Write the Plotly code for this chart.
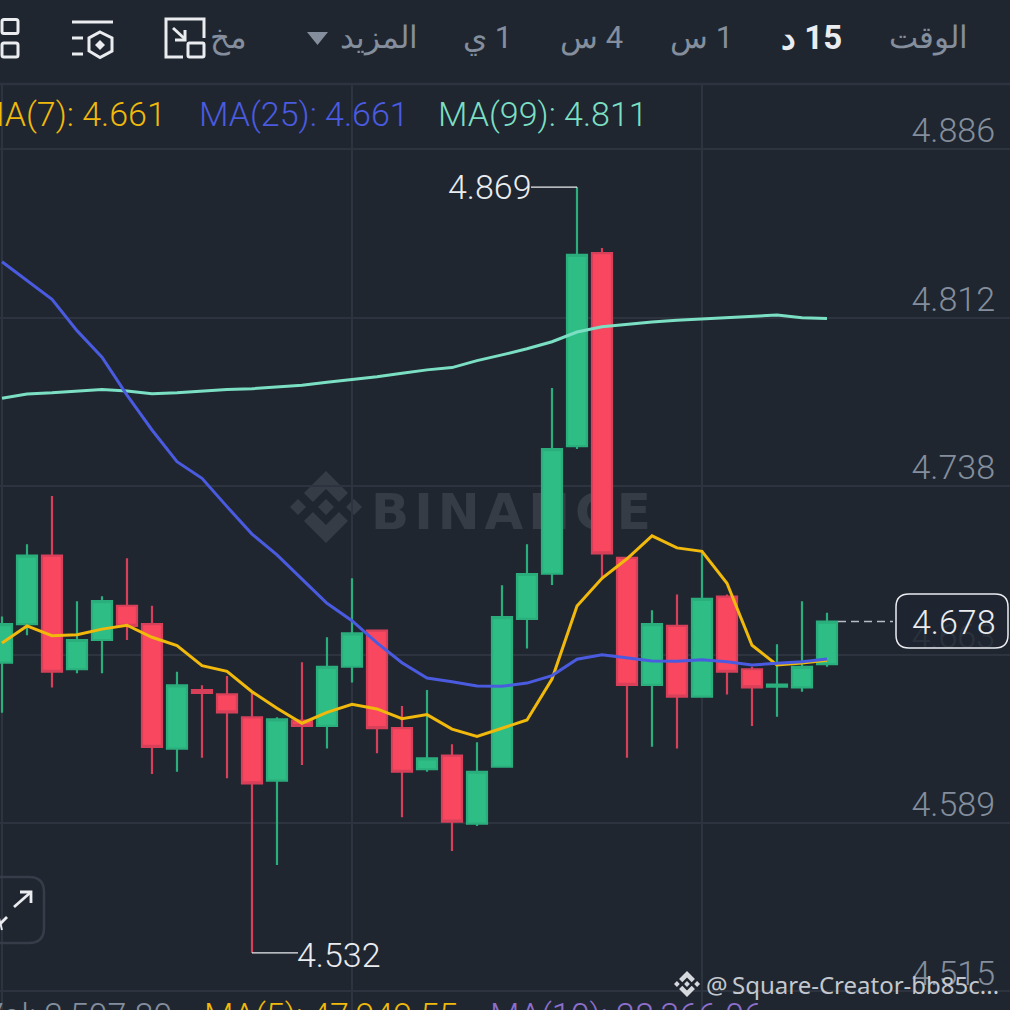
import plotly.graph_objects as go

candle_index = list(range(34))
opens = [4.6595,4.6765,4.7067,4.6566,4.6695,4.6846,4.6765,4.6216,4.6474,4.6455,4.6354,4.6075,4.6339,4.6316,4.6577,4.6736,4.6306,4.6125,4.6185,4.5885,4.6136,4.6788,4.6987,4.7550,4.8401,4.7057,4.6497,4.6757,4.6445,4.6886,4.6566,4.6489,4.6486,4.6588]
highs = [4.6798,4.7117,4.7330,4.6866,4.6888,4.7055,4.6846,4.6555,4.6495,4.6536,4.6461,4.6354,4.6597,4.6707,4.6967,4.6736,4.6404,4.6474,4.6235,4.6244,4.6936,4.7117,4.7806,4.8692,4.8423,4.7057,4.6826,4.6896,4.7087,4.6896,4.6577,4.6676,4.6866,4.6815]
lows = [4.6374,4.6716,4.6486,4.6548,4.6548,4.6695,4.6104,4.6114,4.6176,4.6085,4.5315,4.5703,4.6144,4.6216,4.6507,4.6195,4.5913,4.6114,4.5765,4.5875,4.6136,4.6657,4.6937,4.7537,4.6960,4.6176,4.6224,4.6216,4.6445,4.6455,4.6316,4.6357,4.6467,4.6577]
closes = [4.6765,4.7067,4.6555,4.6695,4.6866,4.6757,4.6224,4.6495,4.6462,4.6376,4.6063,4.6345,4.6316,4.6576,4.6724,4.6306,4.6114,4.6173,4.5894,4.6114,4.6796,4.6986,4.7537,4.8393,4.7077,4.6497,4.6765,4.6445,4.6876,4.6555,4.6486,4.6498,4.6576,4.6776]
ma7 = [4.6682,4.6757,4.6714,4.6718,4.6743,4.6760,4.6707,4.6670,4.6582,4.6557,4.6467,4.6394,4.6328,4.6376,4.6411,4.6391,4.6348,4.6366,4.6302,4.6270,4.6306,4.6342,4.6523,4.6845,4.6967,4.7053,4.7154,4.7101,4.7086,4.6945,4.6672,4.6585,4.6594,4.6606]
ma25 = [4.8363,4.8279,4.8197,4.8059,4.7942,4.7775,4.7621,4.7481,4.7408,4.7283,4.7162,4.7070,4.6963,4.6857,4.6780,4.6682,4.6595,4.6527,4.6511,4.6492,4.6491,4.6505,4.6538,4.6610,4.6630,4.6616,4.6602,4.6601,4.6608,4.6599,4.6585,4.6592,4.6599,4.6611]
ma99 = [4.7761,4.7780,4.7785,4.7793,4.7800,4.7793,4.7781,4.7785,4.7793,4.7799,4.7803,4.7811,4.7818,4.7831,4.7843,4.7856,4.7871,4.7886,4.7896,4.7927,4.7952,4.7979,4.8010,4.8053,4.8076,4.8087,4.8097,4.8105,4.8110,4.8118,4.8122,4.8128,4.8116,4.8113]
tick_values = [4.886,4.8117,4.7374,4.6631,4.5888,4.5145]
tick_labels = ["4.886","4.812","4.738","4.663","4.589","4.515"]
time_tabs = ["الوقت","\u202b15 د\u202c","\u202b1 س\u202c","\u202b4 س\u202c","\u202b1 ي\u202c","المزيد","مخ"]
last_price = 4.6776

BG="#1F2630"; GRID="#2D343F"; UP="#2EBD85"; DOWN="#F8475F"; MUTED="#848E9C"; WHITE="#EAECEF"
YEL="#F0B90B"; BLU="#4A5BE0"; TEAL="#7BDFC3"; WM="#363C46"; FONT="Roboto, sans-serif"

def X(p): return p/1010
def Y(p): return 1-p/1010
def path(pts, close=True):
    return "M "+" L ".join(f"{X(a):.5f} {Y(b):.5f}" for a,b in pts)+(" Z" if close else "")
def shp(d, fill=None, stroke=None, w=0, layer="above"):
    return dict(type="path", xref="paper", yref="paper", path=d, layer=layer,
                fillcolor=fill or "rgba(0,0,0,0)", line=dict(color=stroke or "rgba(0,0,0,0)", width=w))
def rrect(x0,y0,x1,y1,r):
    return (f"M {X(x0+r):.5f} {Y(y0):.5f} L {X(x1-r):.5f} {Y(y0):.5f} Q {X(x1):.5f} {Y(y0):.5f} {X(x1):.5f} {Y(y0+r):.5f} "
            f"L {X(x1):.5f} {Y(y1-r):.5f} Q {X(x1):.5f} {Y(y1):.5f} {X(x1-r):.5f} {Y(y1):.5f} "
            f"L {X(x0+r):.5f} {Y(y1):.5f} Q {X(x0):.5f} {Y(y1):.5f} {X(x0):.5f} {Y(y1-r):.5f} "
            f"L {X(x0):.5f} {Y(y0+r):.5f} Q {X(x0):.5f} {Y(y0):.5f} {X(x0+r):.5f} {Y(y0):.5f} Z")
def logo(cx,cy,s,fill,layer):
    k=s/36
    P=lambda L:[(cx+a*k,cy+b*k) for a,b in L]
    out=[]
    for dx in (-28,0,28):
        out.append(shp(path(P([(dx-8,0),(dx,-8),(dx+8,0),(dx,8)])),fill=fill,layer=layer))
    out.append(shp(path(P([(0,-36),(22,-14),(13,-5),(0,-18),(-13,-5),(-22,-14)])),fill=fill,layer=layer))
    out.append(shp(path(P([(0,36),(22,14),(13,5),(0,18),(-13,5),(-22,14)])),fill=fill,layer=layer))
    return out

fig=go.Figure()
fig.add_trace(go.Candlestick(x=candle_index,open=opens,high=highs,low=lows,close=closes,
    increasing=dict(line=dict(color="#2AAE7C",width=2.2),fillcolor=UP),
    decreasing=dict(line=dict(color="#D8405A",width=2.2),fillcolor=DOWN),whiskerwidth=0,showlegend=False))
for s,c in ((ma99,TEAL),(ma7,YEL),(ma25,BLU)):
    fig.add_trace(go.Scatter(x=candle_index,y=s,mode="lines",line=dict(color=c,width=3),showlegend=False))

hi_i=highs.index(max(highs)); lo_i=lows.index(min(lows))
fig.add_trace(go.Scatter(x=[hi_i-1.84,hi_i],y=[max(highs)]*2,mode="lines",line=dict(color=WHITE,width=1.3),showlegend=False))
fig.add_trace(go.Scatter(x=[lo_i,lo_i+1.84],y=[min(lows)]*2,mode="lines",line=dict(color=WHITE,width=1.3),showlegend=False))
fig.add_trace(go.Scatter(x=[33.44,35.64],y=[last_price]*2,mode="lines",line=dict(color="#B7BDC6",width=1.5,dash="8px,5px"),showlegend=False))

ann=[]
def T(text,x,y,size,color,anchor="center",family=FONT,weight=300):
    ann.append(dict(text=text,xref="paper",yref="paper",x=X(x),y=Y(y),xanchor=anchor,yanchor="middle",showarrow=False,
                    borderpad=0,borderwidth=0,font=dict(family=family,size=size,color=color,weight=weight)))
T(f"{max(highs):.3f}",533,187,34,WHITE,"right")
T(f"{min(lows):.3f}",296,955,34,WHITE,"left")
ann[-2].update(xref="x",x=hi_i-1.80,yref="y",y=max(highs))
ann[-1].update(xref="x",x=lo_i+1.80,yref="y",y=min(lows),yshift=-2)
T(f"MA(7): {ma7[-1]:.3f}",166,114,34,YEL,"right")
T(f"MA(25): {ma25[-1]:.3f}",199,114,34,BLU,"left")
T(f"MA(99): {ma99[-1]:.3f}",438,114,34,TEAL,"left")
T(f"{last_price:.3f}",953.5,622,34,WHITE,"center")
T("Vol: 2,507.80",172,1015,34,MUTED,"right")
T("MA(5): 47,949.55",204,1015,34,YEL,"left")
T("MA(10): 28,366.06",490,1015,34,"#8E6FCB","left")
T("@",717,984,24,"#C4C8CE","center","Noto Sans",400)
T("Square-Creator-bb85c...",732,984,24,"#C4C8CE","left","Noto Sans",400)
tab_x=[928,811,701,591,487,379,228]
for i,(t,x) in enumerate(zip(time_tabs,tab_x)):
    active=i==1
    T(f"<b>{t}</b>" if active else t,x,37,33 if active else 31,WHITE if active else MUTED,"center",FONT,400)

shapes=[]
shapes.append(dict(type="rect",xref="paper",yref="paper",x0=X(370),x1=X(652),y0=Y(530),y1=Y(486),layer="below",
    line=dict(width=0),fillcolor="rgba(0,0,0,0)",
    label=dict(text="<b>B\u200aI\u200aN\u200aA\u200aN\u200aC\u200aE</b>",textposition="middle center",
               font=dict(family="DejaVu Sans",size=50,color=WM))))
shapes+=logo(326,507,36,WM,"below")
shapes.append(dict(type="line",xref="paper",yref="paper",x0=0,x1=1,y0=Y(84),y1=Y(84),line=dict(color=GRID,width=2.5)))
shapes.append(shp(rrect(896,594,1008,648,13),fill="rgba(31,38,48,0.88)",stroke=WHITE,w=1.5))
for y0,y1 in ((19.5,33.5),(43,57)):
    shapes.append(shp(rrect(2,y0,18,y1,2),stroke=WHITE,w=3))
shapes.append(shp(path([(72,22),(113,22)],False),stroke=WHITE,w=3))
shapes.append(shp(path([(72,38),(83,38)],False),stroke=WHITE,w=3))
shapes.append(shp(path([(72,54),(83,54)],False),stroke=WHITE,w=3))
shapes.append(shp(path([(100,32),(112,38),(112,51),(100,57.5),(89,51),(89,38)]),stroke=WHITE,w=3))
shapes.append(shp(path([(100,40),(105,45),(100,50),(95,45)]),fill=WHITE))
shapes.append(shp(path([(204,38),(204,19),(166,19),(166,57),(183,57)],False),stroke=WHITE,w=3))
shapes.append(shp(rrect(188,43,204,57,1.5),stroke=WHITE,w=3))
shapes.append(shp(path([(173,28),(185,39)],False),stroke=WHITE,w=3))
shapes.append(shp(path([(185,30),(185,40),(175,40)],False),stroke=WHITE,w=3))
shapes.append(shp(path([(307,32),(328,32),(317.5,45)]),fill=MUTED))
shapes.append(shp(rrect(-30,877,44,943,15),stroke="#363D49",w=2.5))
shapes.append(shp(path([(14,907),(31,892)],False),stroke=WHITE,w=2.8))
shapes.append(shp(path([(20,892),(31,892),(31,903)],False),stroke=WHITE,w=2.8))
shapes.append(shp(path([(7,917),(-1,925)],False),stroke=WHITE,w=2.8))
shapes.append(shp(path([(-1,918),(2,930)],False),stroke=WHITE,w=2))
shapes+=logo(687,984,13,"#D5D8DC","above")

fig.update_layout(width=1010,height=1010,margin=dict(l=0,r=0,t=0,b=0),paper_bgcolor=BG,plot_bgcolor=BG,
    showlegend=False,boxgap=0.2,boxgroupgap=0,annotations=ann,shapes=shapes,hovermode=False,
    xaxis=dict(range=[-0.08,40.32],tickmode="array",tickvals=[0,14,28],showticklabels=False,showgrid=True,gridcolor=GRID,gridwidth=1.5,
               zeroline=False,rangeslider=dict(visible=False),ticks=""),
    yaxis=dict(range=[4.50634,4.91466],domain=[0,926/1010],side="right",tickmode="array",tickvals=tick_values,ticktext=tick_labels,
               ticklabelposition="inside top",showgrid=True,gridcolor=GRID,gridwidth=1.5,zeroline=False,ticks="",
               ticklabelstandoff=12,ticklabelshift=5,tickfont=dict(family=FONT,size=34,color=MUTED,weight=300)))
fig.write_html("out.html",config=dict(displayModeBar=False),post_script="document.body.style.margin='0';document.documentElement.style.overflow='hidden';")
